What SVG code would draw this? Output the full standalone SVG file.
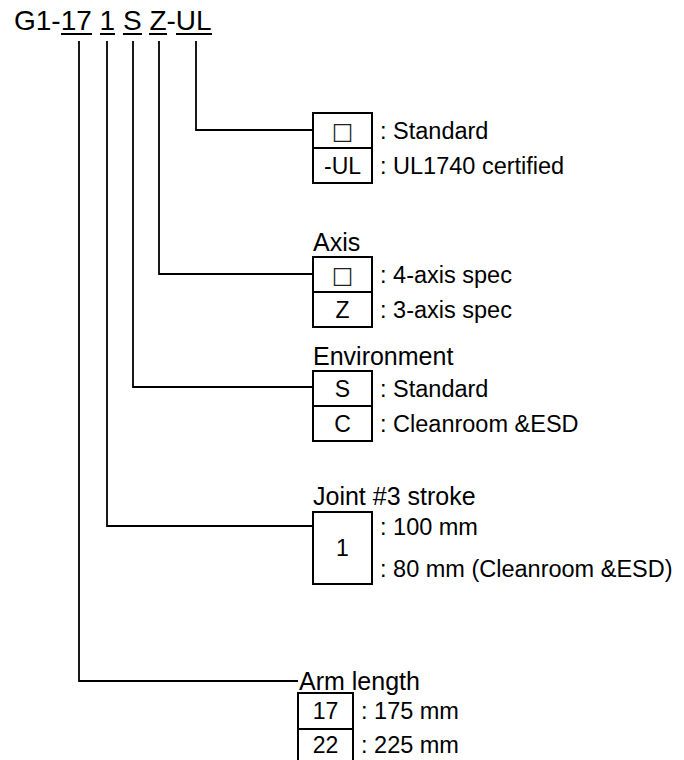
<svg xmlns="http://www.w3.org/2000/svg" width="684" height="760" viewBox="0 0 684 760">
<style>
text{font-family:"Liberation Sans",Arial,sans-serif;fill:#000}
.title{font-size:28px}
.lbl{font-size:25px}
.row{font-size:23.5px}
.bx{font-size:23px;text-anchor:middle}
.sq{font-family:"DejaVu Sans",sans-serif;font-size:23px;fill:#222}
.box{fill:#fff;stroke:#000;stroke-width:2}
.con{fill:none;stroke:#000;stroke-width:1.8}
.ul{stroke:#000;stroke-width:2}
</style>
<rect width="684" height="760" fill="#fff"/>
<g id="title">
<text class="title" x="14" y="30">G1-17 1 S Z-UL</text>
<line class="ul" x1="61" y1="34" x2="92" y2="34"/>
<line class="ul" x1="100" y1="34" x2="115" y2="34"/>
<line class="ul" x1="123" y1="34" x2="142" y2="34"/>
<line class="ul" x1="149" y1="34" x2="167" y2="34"/>
<line class="ul" x1="176" y1="34" x2="212" y2="34"/>
</g>
<g id="connectors">
<polyline class="con" points="196,41 196,130 313,130"/>
<polyline class="con" points="159,41 159,274 313,274"/>
<polyline class="con" points="133,41 133,387 313,387"/>
<polyline class="con" points="107,41 107,526 313,526"/>
<polyline class="con" points="79,41 79,681 298,681"/>
</g>
<g id="ul-option">
<rect class="box" x="313" y="113" width="59" height="35"/>
<rect class="box" x="313" y="148" width="59" height="35"/>
<text class="bx sq" x="342.5" y="138.5">□</text>
<text class="bx" x="342.5" y="173.5">-UL</text>
<text class="row" x="380" y="138.5">: Standard</text>
<text class="row" x="380" y="173.5">: UL1740 certified</text>
</g>
<g id="axis">
<text class="lbl" x="313" y="251">Axis</text>
<rect class="box" x="313" y="257" width="59" height="35"/>
<rect class="box" x="313" y="292" width="59" height="35"/>
<text class="bx sq" x="342.5" y="282.5">□</text>
<text class="bx" x="342.5" y="317.5">Z</text>
<text class="row" x="380" y="282.5">: 4-axis spec</text>
<text class="row" x="380" y="317.5">: 3-axis spec</text>
</g>
<g id="environment">
<text class="lbl" x="313" y="365">Environment</text>
<rect class="box" x="313" y="371" width="59" height="35"/>
<rect class="box" x="313" y="406" width="59" height="35"/>
<text class="bx" x="342.5" y="396.5">S</text>
<text class="bx" x="342.5" y="431.5">C</text>
<text class="row" x="380" y="396.5">: Standard</text>
<text class="row" x="380" y="431.5">: Cleanroom &amp;ESD</text>
</g>
<g id="joint3">
<text class="lbl" x="313" y="505">Joint #3 stroke</text>
<rect class="box" x="313" y="512" width="59" height="72"/>
<text class="bx" x="342.5" y="556">1</text>
<text class="row" x="380" y="535">: 100 mm</text>
<text class="row" x="380" y="577">: 80 mm (Cleanroom &amp;ESD)</text>
</g>
<g id="arm-length">
<text class="lbl" x="299" y="690">Arm length</text>
<rect class="box" x="298" y="693" width="55" height="36"/>
<rect class="box" x="298" y="729" width="55" height="40"/>
<text class="bx" x="325.5" y="719">17</text>
<text class="bx" x="325.5" y="753">22</text>
<text class="row" x="361" y="719">: 175 mm</text>
<text class="row" x="361" y="753">: 225 mm</text>
</g>
</svg>
